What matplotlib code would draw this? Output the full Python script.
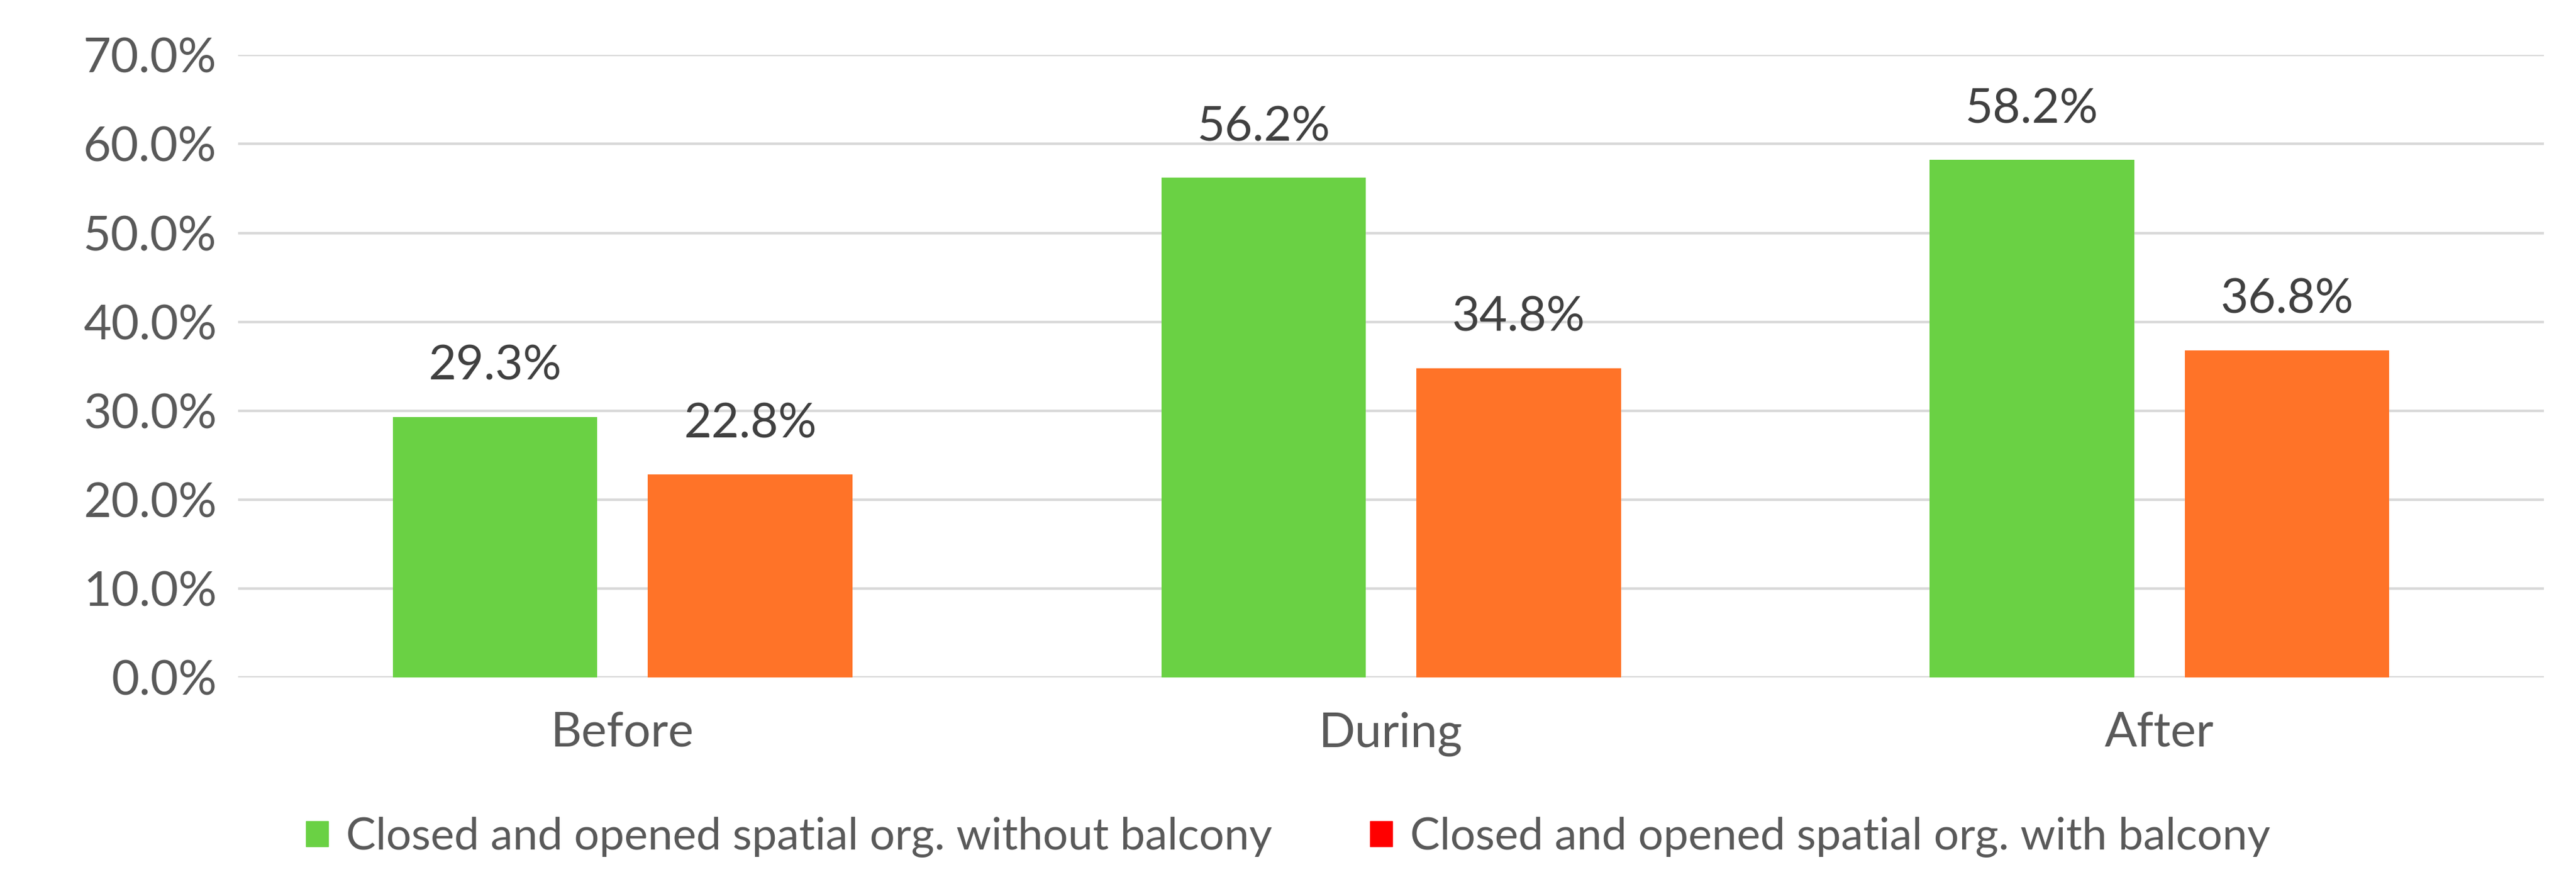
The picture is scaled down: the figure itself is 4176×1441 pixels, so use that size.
import numpy as np
import matplotlib.pyplot as plt
from matplotlib.patches import Patch

plt.rcParams['font.family'] = ['Lato', 'DejaVu Sans']

categories = ['Before', 'During', 'After']
without_balcony = [29.3, 56.2, 58.2]
with_balcony = [22.8, 34.8, 36.8]
labels = ['Closed and opened spatial org. without balcony',
          'Closed and opened spatial org. with balcony']

green = '#6ad144'
orange = '#ff7328'

fig = plt.figure(figsize=(41.76, 14.41), dpi=100)
ax = fig.add_axes([0.0925, 0.238, 0.895, 0.7])

x = np.arange(len(categories))
w = 0.266
off = 0.166
b1 = ax.bar(x - off, without_balcony, w, color=green, zorder=3)
b2 = ax.bar(x + off, with_balcony, w, color=orange, zorder=3)
for bars in (b1, b2):
    for b in bars:
        ax.text(b.get_x() + b.get_width() / 2, b.get_height() + 3.2,
                f'{b.get_height():.1f}%', ha='center', va='bottom',
                fontsize=56, color='#404040')

ax.set_ylim(0, 70)
ax.set_xlim(-0.5, 2.5)
ax.set_yticks(np.arange(0, 71, 10))
ax.set_yticklabels([f'{v:.1f}%' for v in np.arange(0, 71, 10)])
ax.set_xticks(x)
ax.set_xticklabels(categories)
ax.tick_params(axis='both', labelsize=56, colors='#595959', length=0, pad=25)
ax.tick_params(axis='x', pad=40)
ax.grid(axis='y', color='#d9d9d9', linewidth=3, zorder=0)
for s in ax.spines.values():
    s.set_visible(False)

handles = [Patch(color=green), Patch(color='#ff0000')]
fig.legend(handles, labels, loc='lower center', bbox_to_anchor=(0.5, -0.01),
           ncol=2, frameon=False, fontsize=52, handlelength=0.5, handleheight=0.5,
           handletextpad=0.4, columnspacing=2.2, labelcolor='#595959')

fig.savefig('out.png', dpi=100)
